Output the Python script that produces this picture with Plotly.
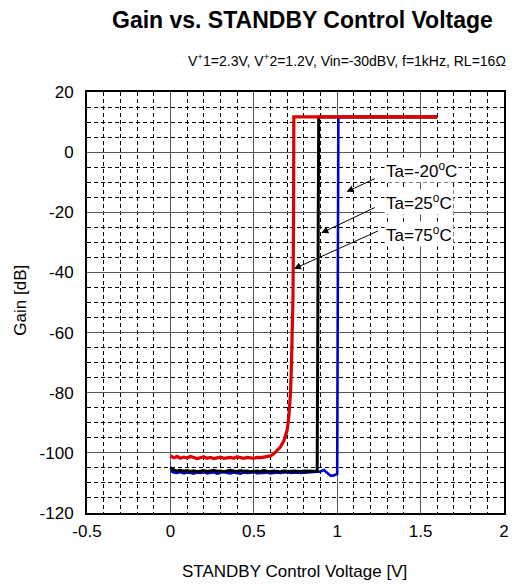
import plotly.graph_objects as go

# ---- data ----
red_x = [0.00, 0.02, 0.04, 0.06, 0.08, 0.10, 0.12, 0.14, 0.16, 0.18, 0.20, 0.22, 0.24, 0.26, 0.28,
         0.30, 0.32, 0.34, 0.36, 0.38, 0.40, 0.42, 0.44, 0.46, 0.48, 0.50, 0.52, 0.54, 0.56, 0.58,
         0.60, 0.62, 0.64, 0.66, 0.68, 0.70, 0.71, 0.72, 0.725, 0.73, 0.735, 0.738, 0.740, 1.60]
red_y = [-101.0, -101.6, -101.2, -101.8, -101.4, -101.7, -101.2, -101.5, -101.9, -101.6, -101.3,
         -101.8, -101.5, -101.9, -101.6, -101.4, -101.8, -101.6, -101.5, -101.8, -101.3, -101.6,
         -101.8, -101.5, -101.7, -101.8, -101.5, -101.6, -101.4, -101.3, -101.0, -100.3, -99.3,
         -98.0, -96.0, -92.5, -88.0, -80.0, -72.0, -62.0, -48.0, -25.0, 11.7, 11.7]

black_x = [0.00, 0.02, 0.04, 0.06, 0.08, 0.10, 0.12, 0.14, 0.16, 0.18, 0.20, 0.22, 0.24, 0.26, 0.28,
           0.30, 0.32, 0.34, 0.36, 0.38, 0.40, 0.42, 0.44, 0.46, 0.48, 0.50, 0.52, 0.54, 0.56, 0.58,
           0.60, 0.62, 0.64, 0.66, 0.68, 0.70, 0.72, 0.74, 0.76, 0.78, 0.80, 0.82, 0.84, 0.86, 0.88,
           0.889, 1.60]
black_y = [-104.8, -105.7, -106.0, -105.8, -106.1, -105.9, -106.2, -106.0, -106.3, -106.1, -105.9,
           -106.2, -106.0, -105.8, -106.1, -106.0, -106.3, -106.1, -105.8, -106.0, -106.2, -105.9,
           -106.1, -106.0, -106.3, -106.1, -106.0, -106.2, -105.9, -106.1, -106.2, -106.0, -106.1,
           -106.3, -106.0, -106.1, -106.2, -106.0, -106.1, -106.2, -106.0, -106.1, -106.2, -106.1,
           -106.1, 11.7, 11.7]

blue_x = [0.00, 0.02, 0.04, 0.06, 0.08, 0.10, 0.12, 0.14, 0.16, 0.18, 0.20, 0.22, 0.24, 0.26, 0.28,
          0.30, 0.32, 0.34, 0.36, 0.38, 0.40, 0.42, 0.44, 0.46, 0.48, 0.50, 0.52, 0.54, 0.56, 0.58,
          0.60, 0.62, 0.64, 0.66, 0.68, 0.70, 0.72, 0.74, 0.76, 0.78, 0.80, 0.82, 0.84, 0.86, 0.88,
          0.90, 0.92, 0.94, 0.96, 0.98, 1.00, 1.007, 1.60]
blue_y = [-106.0, -106.5, -106.7, -106.4, -106.8, -106.5, -106.6, -106.9, -106.5, -106.7, -106.4,
          -106.8, -106.6, -106.5, -106.9, -106.6, -106.4, -106.7, -106.8, -106.5, -106.6, -106.9,
          -106.5, -106.7, -106.6, -106.4, -106.8, -106.6, -106.7, -106.5, -106.8, -106.6, -106.5,
          -106.7, -106.6, -106.4, -106.7, -106.6, -106.5, -106.7, -106.6, -106.5, -106.6, -106.5,
          -106.4, -106.2, -105.7, -106.6, -107.6, -107.5, -107.0, 11.7, 11.7]

series_names = ["Ta=-20<sup>o</sup>C", "Ta=25<sup>o</sup>C", "Ta=75<sup>o</sup>C"]
# label anchor (x, y) and arrow head / tail in data units
label_pos = [(1.28, -6.0), (1.28, -16.6), (1.28, -27.3)]
arrow_head = [(1.056, -13.2), (0.905, -26.9), (0.741, -38.8)]
arrow_tail = [(1.234, -8.6), (1.234, -18.2), (1.253, -26.0)]

x_ticks = [-0.5, 0, 0.5, 1, 1.5, 2]
x_ticklabels = ["-0.5", "0", "0.5", "1", "1.5", "2"]
y_ticks = [-120, -100, -80, -60, -40, -20, 0, 20]
y_ticklabels = ["-120", "-100", "-80", "-60", "-40", "-20", "0", "20"]

FONT = "Arial, Liberation Sans, sans-serif"

fig = go.Figure()
fig.add_trace(go.Scatter(x=blue_x, y=blue_y, mode="lines",
                         line=dict(color="#0000cc", width=2.6), showlegend=False))
fig.add_trace(go.Scatter(x=black_x, y=black_y, mode="lines",
                         line=dict(color="#000000", width=3), showlegend=False))
fig.add_trace(go.Scatter(x=red_x, y=red_y, mode="lines",
                         line=dict(color="#dd0000", width=3.2), showlegend=False))

annotations = []
for name, (lx, ly) in zip(series_names, label_pos):
    annotations.append(dict(x=lx, y=ly, xref="x", yref="y", text=name, showarrow=False,
                            xanchor="left", yanchor="middle", bgcolor="white",
                            font=dict(family=FONT, size=17, color="black"), borderpad=1))
for (hx, hy), (tx, ty) in zip(arrow_head, arrow_tail):
    annotations.append(dict(x=hx, y=hy, ax=tx, ay=ty, xref="x", yref="y", axref="x", ayref="y",
                            text="", showarrow=True, arrowhead=2, arrowsize=1.4, arrowwidth=1,
                            arrowcolor="black"))

# titles (paper coords relative to plot area)
annotations += [
    dict(x=0.517, y=1.171, xref="paper", yref="paper", text="<b>Gain vs. STANDBY Control Voltage</b>",
         showarrow=False, xanchor="center", yanchor="middle",
         font=dict(family=FONT, size=23, color="black")),
    dict(x=1.0095, y=1.076, xref="paper", yref="paper",
         text="V<sup>+</sup>1=2.3V, V<sup>+</sup>2=1.2V, Vin=-30dBV, f=1kHz, RL=16\u03a9",
         showarrow=False, xanchor="right", yanchor="middle",
         font=dict(family=FONT, size=14, color="black")),
    dict(x=0.498, y=-0.138, xref="paper", yref="paper", text="STANDBY Control Voltage [V]",
         showarrow=False, xanchor="center", yanchor="middle",
         font=dict(family=FONT, size=17, color="black")),
    dict(x=-0.159, y=0.506, xref="paper", yref="paper", text="Gain [dB]", textangle=-90,
         showarrow=False, xanchor="center", yanchor="middle",
         font=dict(family=FONT, size=17, color="black")),
]

fig.update_layout(
    width=516, height=587,
    margin=dict(l=87, r=7, t=92, b=74),
    paper_bgcolor="white", plot_bgcolor="white",
    font=dict(family=FONT, size=16, color="black"),
    annotations=annotations,
    showlegend=False,
)
fig.update_xaxes(range=[-0.5, 2], tickvals=x_ticks, ticktext=x_ticklabels,
                 showgrid=True, gridcolor="#555555", gridwidth=1,
                 minor=dict(dtick=0.1, tick0=0, showgrid=True, gridcolor="#000000",
                            gridwidth=1, griddash="4px,3px"),
                 showline=True, linecolor="black", linewidth=2, mirror=True,
                 zeroline=False, ticks="", ticklabelstandoff=2,
                 tickfont=dict(family=FONT, size=17))
fig.update_yaxes(range=[-120, 20], tickvals=y_ticks, ticktext=y_ticklabels,
                 showgrid=True, gridcolor="#555555", gridwidth=1,
                 minor=dict(dtick=5, tick0=0, showgrid=True, gridcolor="#000000",
                            gridwidth=1, griddash="4px,3px"),
                 showline=True, linecolor="black", linewidth=2, mirror=True,
                 zeroline=False, ticks="", ticklabelstandoff=8,
                 tickfont=dict(family=FONT, size=17))

# remove the default 8px page margin so the figure fills the 516x587 window exactly
fig.write_html("out.html", config={"displayModeBar": False},
               post_script="document.body.style.margin='0';")
